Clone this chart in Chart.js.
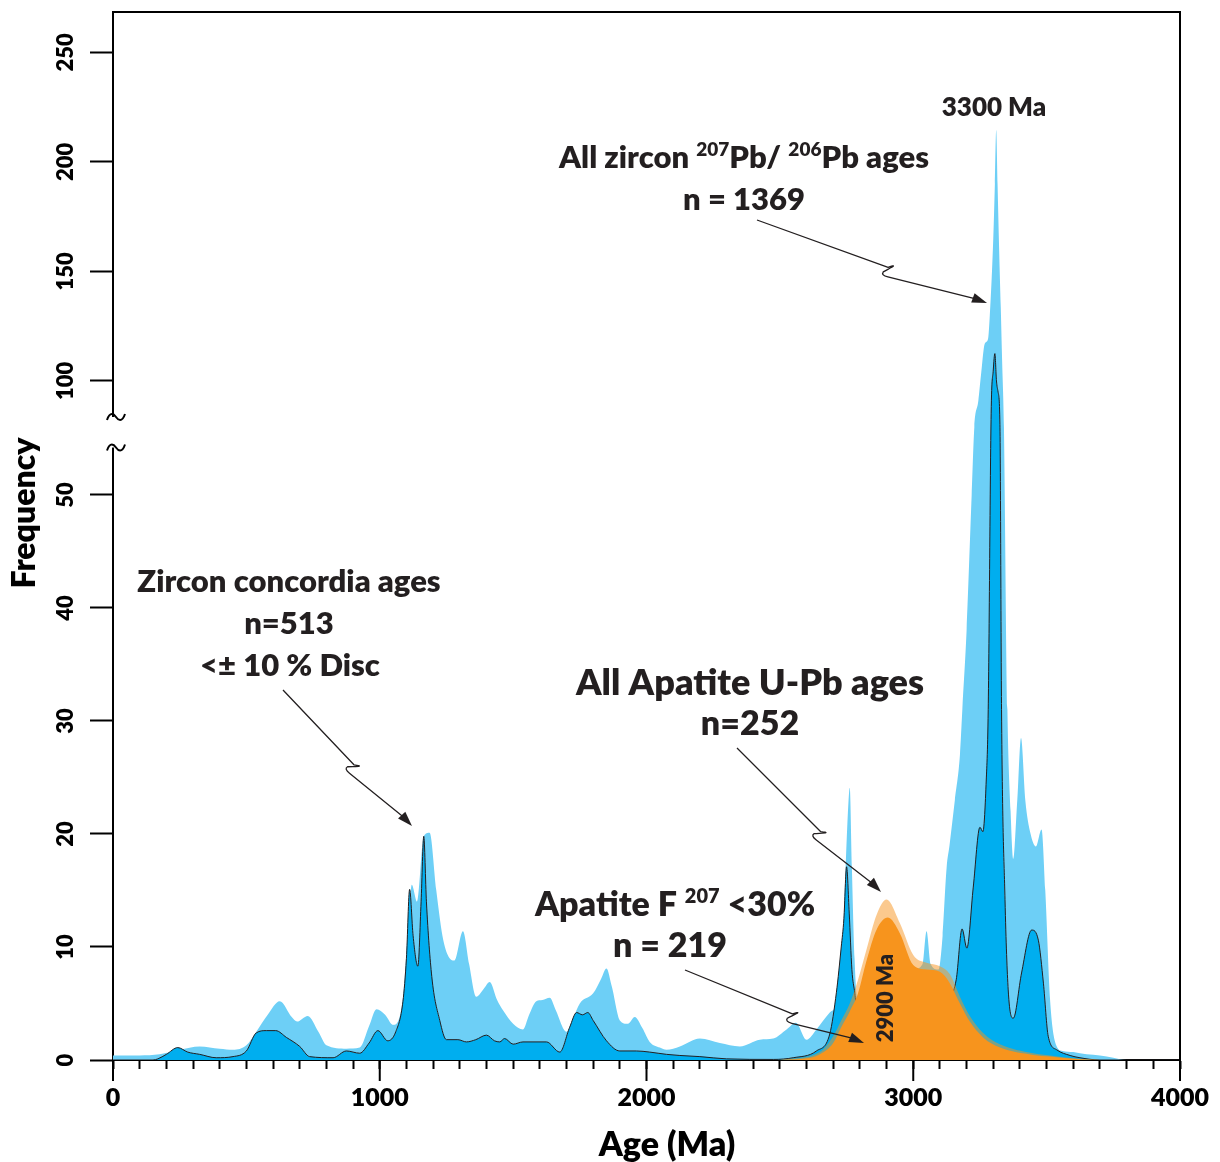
<!DOCTYPE html>
<html>
<head>
<meta charset="utf-8">
<script src="https://cdn.jsdelivr.net/npm/chart.js@4.4.1/dist/chart.umd.min.js"></script>
<style>
    html, body { margin: 0; padding: 0; background: #fff; }
    #grafico { display: block; }
</style>
</head>
<body>
<canvas id="grafico" width="1220" height="1162"></canvas>
<script>
// All zircon 207Pb/206Pb ages, n = 1369
const zirconAllAge = [0, 100, 175, 250, 325, 400, 450, 500, 537, 580,
    625, 670, 690, 730, 770, 800, 875, 925, 960, 988,
    1020, 1050, 1087, 1110, 1120, 1140, 1165, 1187, 1212, 1235,
    1255, 1280, 1312, 1335, 1362, 1390, 1412, 1440, 1462, 1500,
    1537, 1560, 1587, 1610, 1637, 1660, 1700, 1725, 1750, 1800,
    1830, 1850, 1870, 1900, 1930, 1956, 1985, 2012, 2050, 2075,
    2125, 2200, 2275, 2350, 2425, 2475, 2525, 2560, 2600, 2637,
    2687, 2725, 2740, 2755, 2762, 2770, 2780, 2790, 2820, 2900,
    2950, 3000, 3035, 3050, 3065, 3095, 3110, 3125, 3136, 3156,
    3175, 3184, 3200, 3219, 3229, 3244, 3255, 3268, 3280, 3287,
    3300, 3306, 3311, 3316, 3322, 3328, 3333, 3340, 3353, 3365,
    3375, 3390, 3404, 3420, 3440, 3460, 3481, 3495, 3513, 3538,
    3560, 3600, 3650, 3700, 3750, 3800, 4000];
const zirconAllFreq = [0.4, 0.4, 0.5, 0.9, 1.2, 1.0, 0.9, 1.3, 2.5, 4.0,
    5.2, 3.8, 3.4, 3.9, 2.5, 1.3, 1.0, 1.1, 3.0, 4.5,
    4.0, 3.1, 5.5, 13, 15.5, 14, 19.8, 20.1, 15, 11,
    9.3, 8.8, 11.4, 8.5, 5.6, 6.3, 6.9, 5.3, 4.4, 3.2,
    2.7, 4.0, 5.2, 5.3, 5.5, 4.4, 2.5, 3.7, 5.0, 5.9,
    7.2, 8.1, 6.5, 3.5, 3.2, 3.8, 2.8, 1.6, 1.1, 0.9,
    1.2, 1.9, 1.5, 1.2, 1.8, 1.9, 2.7, 3.3, 1.8, 2.7,
    4.2, 6.2, 13, 21.9, 24.1, 17, 9, 5.5, 5, 6.5,
    7.5, 8, 8.5, 11.4, 8.5, 8, 11, 17, 19, 23,
    27, 31, 38, 50, 78, 91, 104, 117, 119, 130,
    165, 190, 214.6, 190, 160, 134, 110, 78, 31, 22,
    17.8, 23, 28.5, 23, 20, 18.9, 20.4, 15, 5.3, 1.2,
    0.8, 0.7, 0.5, 0.4, 0.2, 0, 0];

// Zircon concordia ages, n = 513
const zirconConcAge = [0, 150, 168, 200, 243, 280, 325, 387, 450, 500,
    537, 575, 610, 650, 700, 737, 825, 875, 925, 960,
    993, 1030, 1060, 1087, 1100, 1112, 1125, 1143, 1155, 1165,
    1175, 1195, 1225, 1250, 1293, 1325, 1360, 1400, 1430, 1450,
    1468, 1500, 1537, 1625, 1675, 1712, 1738, 1760, 1780, 1800,
    1850, 1900, 1962, 2012, 2075, 2125, 2200, 2300, 2475, 2550,
    2637, 2687, 2712, 2730, 2740, 2750, 2760, 2770, 2781, 2795,
    2850, 2950, 3050, 3120, 3161, 3183, 3201, 3225, 3250, 3261,
    3273, 3281, 3292, 3300, 3306, 3312, 3318, 3325, 3331, 3344,
    3356, 3375, 3406, 3444, 3469, 3488, 3506, 3538, 3588, 3625,
    3700, 4000];
const zirconConcFreq = [0, 0, 0.1, 0.5, 1.1, 0.7, 0.5, 0.2, 0.3, 0.8,
    2.4, 2.6, 2.6, 2.0, 1.2, 0.3, 0.2, 0.8, 0.6, 1.5,
    2.6, 1.7, 2.5, 5.2, 9, 15.1, 11, 8.3, 14, 19.8,
    14, 7.4, 3.5, 1.8, 1.8, 1.6, 1.8, 2.2, 1.7, 1.6,
    1.9, 1.4, 1.6, 1.6, 0.7, 2.9, 4.2, 4.0, 4.2, 3.5,
    1.7, 0.8, 0.8, 0.7, 0.5, 0.4, 0.3, 0.1, 0.05, 0.2,
    0.8, 2.3, 6, 10, 12.5, 17.1, 13, 8, 5.9, 3.0,
    2.5, 3, 4, 5, 7.1, 11.6, 9.9, 15.3, 20.6, 20.2,
    24.4, 31, 85, 105, 112.5, 100, 95, 80, 31, 14.2,
    6.2, 3.7, 7.7, 11.5, 10.6, 6.8, 2.1, 0.9, 0.4, 0.2,
    0, 0];

// All apatite U-Pb ages, n = 252
const apatiteAllAge = [2500, 2650, 2700, 2730, 2762, 2793, 2825, 2862, 2900, 2950,
    3000, 3050, 3100, 3137, 3175, 3212, 3262, 3325, 3450, 3512,
    3600, 3700, 4000];
const apatiteAllFreq = [0, 0.7, 2.1, 3.5, 5.0, 7.1, 9.8, 12.8, 14.2, 12.1,
    9.3, 8.6, 8.3, 7.6, 5.6, 3.9, 2.4, 1.4, 0.6, 0.4,
    0.15, 0, 0];

// Apatite F207 < 30 %, n = 219
const apatiteFAge = [2500, 2587, 2650, 2700, 2730, 2762, 2793, 2825, 2862, 2905,
    2950, 3000, 3050, 3100, 3137, 3175, 3212, 3262, 3325, 3450,
    3512, 3600, 3700, 4000];
const apatiteFFreq = [0, 0.1, 0.5, 1.5, 2.9, 4.3, 5.9, 8.8, 11.5, 12.6,
    11.2, 8.4, 8.0, 7.8, 6.8, 5.0, 3.4, 2.0, 1.1, 0.45,
    0.3, 0.1, 0, 0];

const yTickValues = [0, 10, 20, 30, 40, 50, 100, 150, 200, 250];
const xTickLabels = [0, 1000, 2000, 3000, 4000];

// eixo quebrado: 0-56 normal, acima da quebra o 100 fica em 60.09 e cada unidade vale ~0.19
function toAxis(v) {
    if (v <= 56) {
        return v;
    }
    return Math.max(56, 60.09 + (v - 100) * 0.1938);
}

function points(ages, freqs) {
    return ages.map((age, i) => ({ x: age, y: toAxis(freqs[i]) }));
}

function drawText(ctx, parts, cx, baseline) {
    let total = 0;
    parts.forEach(p => {
        ctx.font = `800 ${p.size}px Lato`;
        p.w = ctx.measureText(p.text).width;
        total += p.w;
    });
    let x = cx - total / 2;
    ctx.textAlign = 'left';
    ctx.textBaseline = 'alphabetic';
    parts.forEach(p => {
        ctx.font = `800 ${p.size}px Lato`;
        ctx.fillText(p.text, x, baseline - (p.rise || 0));
        x += p.w;
    });
}

function drawArrow(ctx, x0, y0, x1, y1, t) {
    const dx = x1 - x0;
    const dy = y1 - y0;
    const len = Math.hypot(dx, dy);
    const ux = dx / len, uy = dy / len;
    const nx = -uy, ny = ux;
    const mx = x0 + dx * t, my = y0 + dy * t;
    ctx.beginPath();
    ctx.moveTo(x0, y0);
    ctx.lineTo(mx, my);
    ctx.bezierCurveTo(mx + ux * 9 - nx * 7, my + uy * 9 - ny * 7,
        mx + ux * 3 - nx * 1, my + uy * 3 - ny * 1,
        mx - ux * 3 + nx * 6, my - uy * 3 + ny * 6);
    ctx.quadraticCurveTo(mx - ux * 4 + nx * 10, my - uy * 4 + ny * 10,
        mx + ux * 3 + nx * 9, my + uy * 3 + ny * 9);
    ctx.lineTo(x1 - ux * 12, y1 - uy * 12);
    ctx.stroke();
    ctx.beginPath();
    ctx.moveTo(x1, y1);
    ctx.lineTo(x1 - ux * 15 + nx * 5, y1 - uy * 15 + ny * 5);
    ctx.lineTo(x1 - ux * 15 - nx * 5, y1 - uy * 15 - ny * 5);
    ctx.closePath();
    ctx.fill();
}

function drawTilde(ctx, cx, cy) {
    ctx.beginPath();
    ctx.moveTo(cx - 9, cy + 3);
    ctx.bezierCurveTo(cx - 6, cy - 6, cx - 2, cy - 3, cx, cy);
    ctx.bezierCurveTo(cx + 2, cy + 3, cx + 6, cy + 6, cx + 9, cy - 3);
    ctx.stroke();
}

const extras = {
    id: 'extras',
    afterDraw(chart) {
        const ctx = chart.ctx;
        const area = chart.chartArea;
        const xs = chart.scales.x;
        const ys = chart.scales.y;
        ctx.save();
        ctx.strokeStyle = '#000';
        ctx.fillStyle = '#000';
        ctx.lineWidth = 2;

        ctx.beginPath();
        ctx.moveTo(area.left, area.top);
        ctx.lineTo(area.right, area.top);
        ctx.lineTo(area.right, area.bottom);
        ctx.stroke();

        xTickLabels.forEach(v => {
            const px = xs.getPixelForValue(v);
            ctx.beginPath();
            ctx.moveTo(px, area.bottom);
            ctx.lineTo(px, area.bottom + 21);
            ctx.stroke();
        });

        // quebra do eixo y
        const yTop = ys.getPixelForValue(56.9);
        const yBottom = ys.getPixelForValue(54.2);
        ctx.fillStyle = '#fff';
        ctx.fillRect(area.left - 4, yTop, 8, yBottom - yTop);
        ctx.fillStyle = '#000';
        ctx.lineWidth = 2;
        drawTilde(ctx, area.left + 3, yTop);
        drawTilde(ctx, area.left + 3, yBottom);

        // titulos dos eixos
        ctx.font = '800 34px Lato';
        ctx.textAlign = 'center';
        ctx.textBaseline = 'middle';
        ctx.fillText('Age (Ma)', 667, 1145);
        ctx.save();
        ctx.translate(25, 513);
        ctx.rotate(-Math.PI / 2);
        ctx.font = '800 32px Lato';
        ctx.fillText('Frequency', 0, 0);
        ctx.restore();

        // anotacoes
        ctx.fillStyle = '#231f20';
        drawText(ctx, [{ text: '3300 Ma', size: 26 }], 994, 116);
        drawText(ctx, [
            { text: 'All zircon ', size: 31 },
            { text: '207', size: 19, rise: 12 },
            { text: 'Pb/ ', size: 31 },
            { text: '206', size: 19, rise: 12 },
            { text: 'Pb ages', size: 31 }
        ], 744, 168);
        drawText(ctx, [{ text: 'n = 1369', size: 31 }], 744, 210);

        drawText(ctx, [{ text: 'Zircon concordia ages', size: 31 }], 289, 592);
        drawText(ctx, [{ text: 'n=513', size: 31 }], 289, 634);
        drawText(ctx, [{ text: '<± 10 % Disc', size: 31 }], 290, 676);

        drawText(ctx, [{ text: 'All Apatite U-Pb ages', size: 36 }], 750, 695);
        drawText(ctx, [{ text: 'n=252', size: 34 }], 750, 735);

        drawText(ctx, [
            { text: 'Apatite F ', size: 34 },
            { text: '207', size: 20, rise: 13 },
            { text: ' <30%', size: 34 }
        ], 675, 916);
        drawText(ctx, [{ text: 'n = 219', size: 34 }], 670, 957);

        ctx.save();
        ctx.translate(886, 998);
        ctx.rotate(-Math.PI / 2);
        ctx.font = '800 22px Lato';
        ctx.textAlign = 'center';
        ctx.textBaseline = 'middle';
        ctx.fillText('2900 Ma', 0, 0);
        ctx.restore();

        ctx.strokeStyle = '#231f20';
        ctx.fillStyle = '#231f20';
        ctx.lineWidth = 1.3;
        ctx.lineJoin = 'round';
        drawArrow(ctx, 757, 220, 987, 303, 0.57);
        drawArrow(ctx, 283, 690, 412, 826, 0.55);
        drawArrow(ctx, 737, 748, 881, 892, 0.58);
        drawArrow(ctx, 685, 970, 864, 1043, 0.6);
        ctx.restore();
    }
};

const ctx = document.getElementById('grafico').getContext('2d');
const chart = new Chart(ctx, {
    type: 'line',
    data: {
        datasets: [{
            label: 'Apatite F207 <30%',
            data: points(apatiteFAge, apatiteFFreq),
            backgroundColor: '#f7941d',
            borderWidth: 0,
            fill: 'origin'
        }, {
            label: 'All Apatite U-Pb ages',
            data: points(apatiteAllAge, apatiteAllFreq),
            backgroundColor: 'rgba(247, 148, 29, 0.5)',
            borderWidth: 0,
            fill: 'origin'
        }, {
            label: 'Zircon concordia ages',
            data: points(zirconConcAge, zirconConcFreq),
            backgroundColor: '#00aeef',
            borderColor: '#231f20',
            borderWidth: 1,
            fill: 'origin'
        }, {
            label: 'All zircon 207Pb/206Pb ages',
            data: points(zirconAllAge, zirconAllFreq),
            backgroundColor: '#6dcff6',
            borderWidth: 0,
            fill: 'origin'
        }]
    },
    options: {
        responsive: false,
        animation: false,
        devicePixelRatio: 1,
        layout: { padding: { top: 12, right: 40, left: 0, bottom: 0 } },
        elements: {
            point: { radius: 0 },
            line: { cubicInterpolationMode: 'monotone' }
        },
        plugins: {
            legend: { display: false },
            tooltip: { enabled: false }
        },
        scales: {
            x: {
                type: 'linear',
                min: 0,
                max: 4000,
                ticks: {
                    stepSize: 100,
                    autoSkip: false,
                    maxRotation: 0,
                    padding: 14,
                    color: '#000',
                    font: { family: 'Lato', weight: '800', size: 25 },
                    callback: v => (v % 1000 === 0 ? v : '')
                },
                grid: { drawOnChartArea: false, tickLength: 9, tickColor: '#000', tickWidth: 2 },
                border: { color: '#000', width: 2 },
                afterFit: s => {
                    s.height = 102;
                    s.paddingLeft = 0;
                    s.paddingRight = 0;
                }
            },
            y: {
                min: 0,
                max: 92.74,
                afterBuildTicks: s => {
                    s.ticks = yTickValues.map(v => ({ value: toAxis(v) }));
                },
                ticks: {
                    minRotation: 90,
                    maxRotation: 90,
                    crossAlign: 'center',
                    padding: 5,
                    color: '#000',
                    font: { family: 'Lato', weight: '800', size: 22 },
                    callback: (v, i) => yTickValues[i]
                },
                grid: { drawOnChartArea: false, tickLength: 23, tickColor: '#000', tickWidth: 2 },
                border: { color: '#000', width: 2 },
                afterFit: s => {
                    s.width = 113;
                    s.paddingTop = 0;
                    s.paddingBottom = 0;
                }
            }
        }
    },
    plugins: [extras]
});
</script>
</body>
</html>
